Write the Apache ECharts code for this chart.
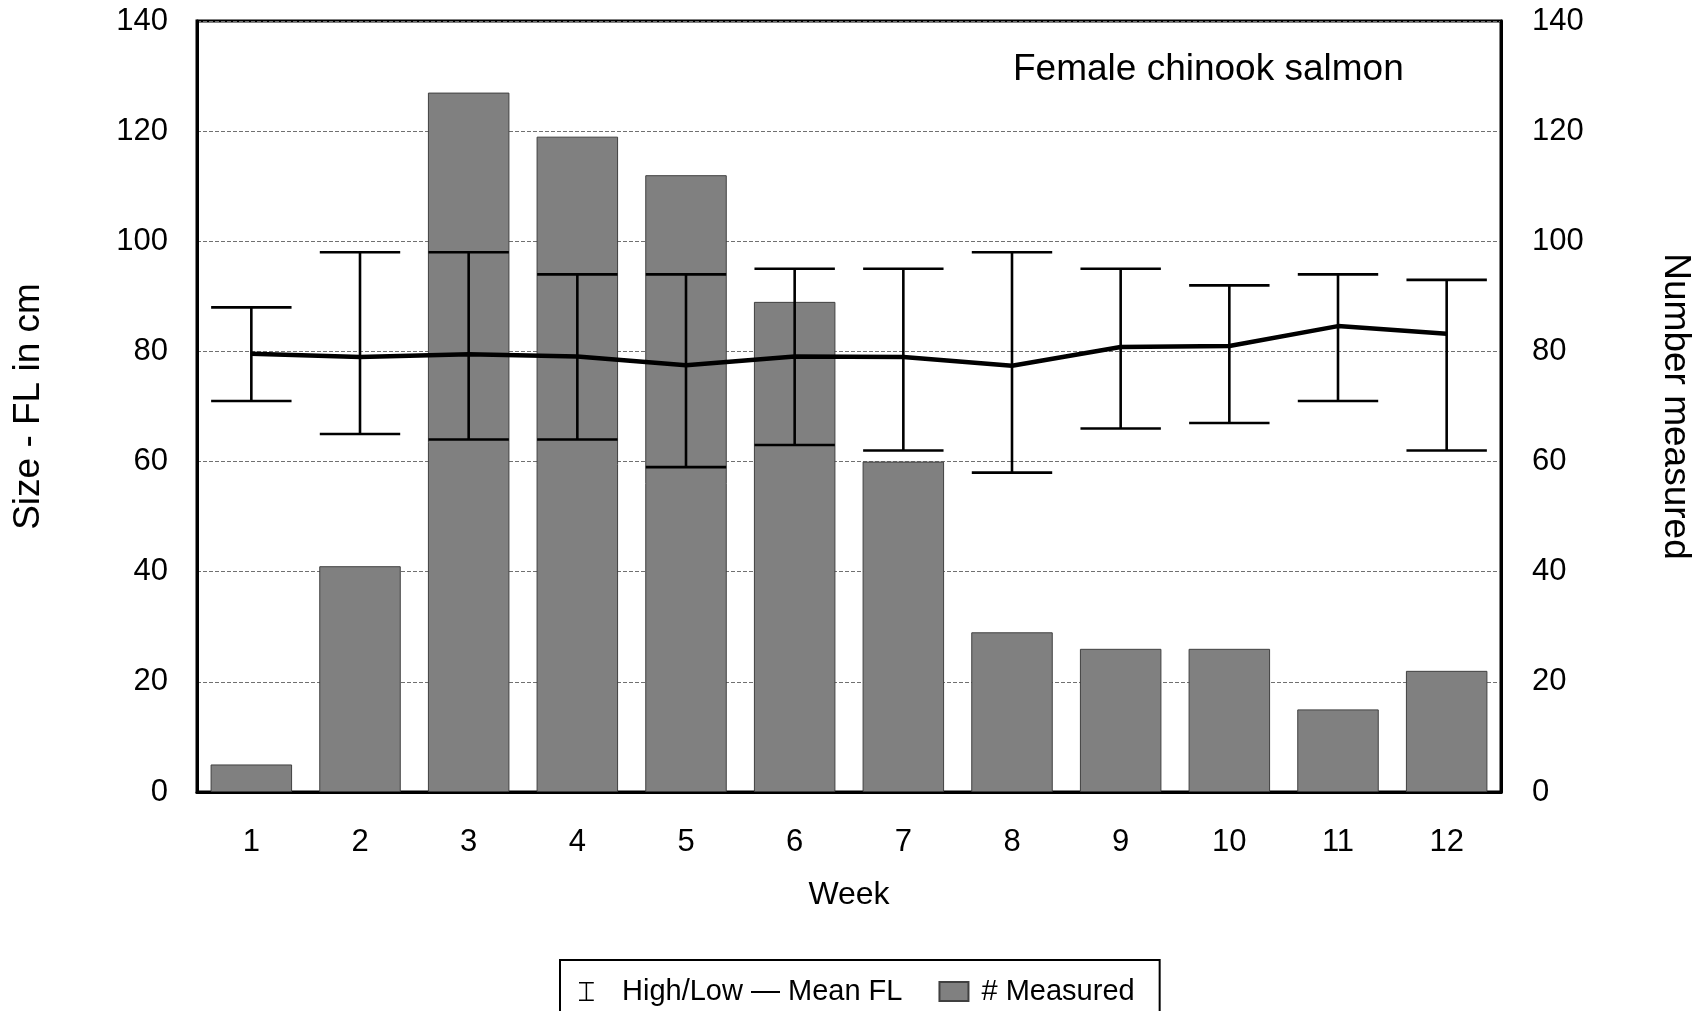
<!DOCTYPE html>
<html style="height: 100%">
   <head>
       <meta charset="utf-8">
   </head>
   <body style="height: 100%; margin: 0; background: #fff">
       <div id="container" style="width: 1704px; height: 1011px"></div>
       <script type="text/javascript" src="https://cdn.jsdelivr.net/npm/echarts@6/dist/echarts.min.js"></script>
       <script type="text/javascript">
// Female chinook salmon, fork length by week
var weeks = ['1', '2', '3', '4', '5', '6', '7', '8', '9', '10', '11', '12'];
var numMeasured = [5, 41, 127, 119, 112, 89, 60, 29, 26, 26, 15, 22];
var highFL = [88, 98, 98, 94, 94, 95, 95, 98, 95, 92, 94, 93];
var lowFL = [71, 65, 64, 64, 59, 63, 62, 58, 66, 67, 71, 62];
var meanFL = [79.6, 79.0, 79.5, 79.1, 77.5, 79.1, 79.0, 77.4, 80.8, 81.0, 84.6, 83.2];

var font = 'Liberation Sans';
var nameLabel = 'High/Low — Mean FL';

var errData = weeks.map(function (w, i) {
    return [i, lowFL[i], highFL[i]];
});

function renderErr(params, api) {
    var x = api.value(0);
    var lo = api.coord([x, api.value(1)]);
    var hi = api.coord([x, api.value(2)]);
    var w = api.size([1, 0])[0] * 0.74;
    var st = {stroke: '#000', lineWidth: 2.6};
    return {
        type: 'group',
        children: [
            {type: 'line', shape: {x1: hi[0], y1: hi[1], x2: lo[0], y2: lo[1]}, style: st},
            {type: 'line', shape: {x1: hi[0] - w / 2, y1: hi[1], x2: hi[0] + w / 2, y2: hi[1]}, style: st},
            {type: 'line', shape: {x1: lo[0] - w / 2, y1: lo[1], x2: lo[0] + w / 2, y2: lo[1]}, style: st}
        ]
    };
}

var yAxisBase = {
    type: 'value',
    min: 0,
    max: 140,
    interval: 20,
    nameLocation: 'middle',
    nameTextStyle: {fontFamily: font, fontSize: 37, color: '#000'},
    axisLine: {show: true, lineStyle: {color: '#000', width: 3}},
    axisTick: {show: false},
    axisLabel: {fontFamily: font, fontSize: 31, color: '#000'}
};

var chart = echarts.init(document.getElementById('container'));
var option = {
    backgroundColor: '#fff',
    animation: false,
    title: {
        text: 'Female chinook salmon',
        left: 1013,
        top: 51,
        padding: 0,
        textStyle: {fontFamily: font, fontSize: 37, fontWeight: 'normal', color: '#000'}
    },
    legend: {
        left: 560,
        top: 960,
        padding: [17, 25, 40, 19],
        borderColor: '#000',
        borderWidth: 2,
        itemWidth: 29,
        itemHeight: 19,
        itemGap: 36,
        textStyle: {fontFamily: font, fontSize: 29, color: '#000'},
        formatter: function (name) {
            return name === nameLabel ? '  ' + name : ' ' + name;
        },
        data: [
            {name: nameLabel, icon: 'path://M0,0H14V1.4H7.7V16.6H14V18H0V16.6H6.3V1.4H0Z', itemStyle: {color: '#000'}},
            {name: '# Measured', icon: 'rect'}
        ]
    },
    grid: {
        left: 197,
        right: 203,
        top: 21,
        bottom: 219,
        show: true,
        borderColor: '#000',
        borderWidth: 3
    },
    xAxis: {
        type: 'category',
        data: weeks,
        name: 'Week',
        nameLocation: 'middle',
        nameGap: 87,
        nameTextStyle: {fontFamily: font, fontSize: 32, color: '#000'},
        axisLine: {lineStyle: {color: '#000', width: 3}},
        axisTick: {alignWithLabel: true, length: 19, lineStyle: {color: '#000', width: 1.5}},
        axisLabel: {fontFamily: font, fontSize: 31, color: '#000', margin: 35}
    },
    yAxis: [
        Object.assign({}, yAxisBase, {
            name: 'Size - FL in cm',
            position: 'left',
            nameGap: 150,
            axisLabel: Object.assign({}, yAxisBase.axisLabel, {margin: 29}),
            splitLine: {show: true, lineStyle: {color: '#707070', width: 1, type: [4, 2]}}
        }),
        Object.assign({}, yAxisBase, {
            name: 'Number measured',
            position: 'right',
            nameGap: 156,
            nameRotate: -90,
            axisLabel: Object.assign({}, yAxisBase.axisLabel, {margin: 31}),
            splitLine: {show: false}
        })
    ],
    series: [
        {
            name: '# Measured',
            type: 'bar',
            yAxisIndex: 1,
            barWidth: '75%',
            data: numMeasured,
            itemStyle: {color: '#808080', borderColor: '#404040', borderWidth: 1}
        },
        {
            name: nameLabel,
            type: 'custom',
            yAxisIndex: 0,
            renderItem: renderErr,
            itemStyle: {color: '#000'},
            data: errData,
            z: 3
        },
        {
            name: nameLabel,
            type: 'line',
            yAxisIndex: 0,
            data: meanFL,
            showSymbol: false,
            lineStyle: {color: '#000', width: 4.5},
            itemStyle: {color: '#000'},
            z: 4
        }
    ]
};
chart.setOption(option);
       </script>
   </body>
</html>
